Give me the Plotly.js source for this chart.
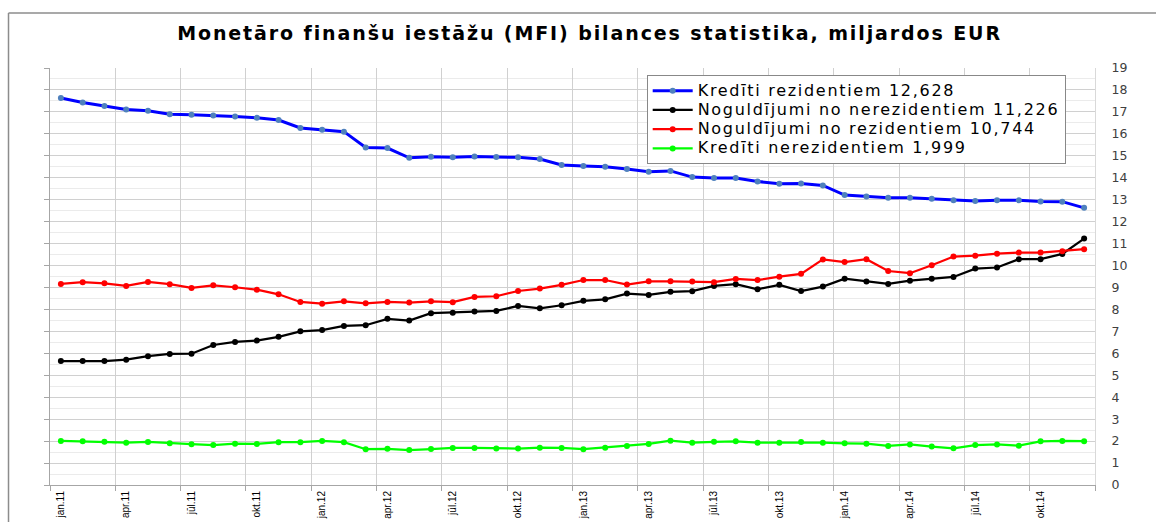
<!DOCTYPE html>
<html><head><meta charset="utf-8">
<script src="https://cdn.plot.ly/plotly-3.0.1.min.js"></script>
<style>html,body{margin:0;padding:0;background:#fff;} #chart{width:1156px;height:522px;}</style>
</head><body><div id="chart"></div>
<script>
const months = [
  'jan.11','feb.11','mar.11','apr.11','mai.11','jūn.11','jūl.11','aug.11','sep.11','okt.11','nov.11','dec.11',
  'jan.12','feb.12','mar.12','apr.12','mai.12','jūn.12','jūl.12','aug.12','sep.12','okt.12','nov.12','dec.12',
  'jan.13','feb.13','mar.13','apr.13','mai.13','jūn.13','jūl.13','aug.13','sep.13','okt.13','nov.13','dec.13',
  'jan.14','feb.14','mar.14','apr.14','mai.14','jūn.14','jūl.14','aug.14','sep.14','okt.14','nov.14','dec.14'
];
const tickLabels = ['jan.11','apr.11','jūl.11','okt.11','jan.12','apr.12','jūl.12','okt.12',
  'jan.13','apr.13','jūl.13','okt.13','jan.14','apr.14','jūl.14','okt.14'];
const titleText = 'Monetāro finanšu iestāžu (MFI) bilances statistika, miljardos EUR';
const seriesNames = [
  'Kredīti rezidentiem 12,628',
  'Noguldījumi no nerezidentiem 11,226',
  'Noguldījumi no rezidentiem 10,744',
  'Kredīti nerezidentiem 1,999'
];
const kreditiRezidentiem = [
  17.63,17.43,17.27,17.11,17.05,16.89,16.87,16.84,16.79,16.73,16.63,16.27,
  16.19,16.10,15.38,15.35,14.91,14.96,14.93,14.97,14.94,14.93,14.85,14.58,
  14.53,14.50,14.40,14.27,14.31,14.03,13.99,13.99,13.83,13.73,13.74,13.65,
  13.21,13.15,13.09,13.09,13.04,12.97,12.94,12.97,12.97,12.92,12.91,12.628
];
const noguldijumiNerezidentiem = [
  5.65,5.65,5.65,5.71,5.87,5.97,5.98,6.38,6.52,6.58,6.75,7.00,
  7.06,7.25,7.28,7.57,7.49,7.83,7.85,7.90,7.93,8.16,8.05,8.19,
  8.39,8.46,8.72,8.66,8.80,8.83,9.07,9.15,8.92,9.12,8.84,9.04,
  9.40,9.27,9.16,9.31,9.40,9.48,9.86,9.91,10.29,10.29,10.53,11.226
];
const noguldijumiRezidentiem = [
  9.16,9.24,9.19,9.07,9.25,9.15,8.98,9.10,9.01,8.90,8.69,8.34,
  8.26,8.37,8.28,8.34,8.31,8.37,8.33,8.57,8.60,8.84,8.95,9.12,
  9.34,9.34,9.13,9.28,9.28,9.27,9.24,9.39,9.34,9.49,9.62,10.28,
  10.16,10.29,9.75,9.65,10.01,10.41,10.45,10.54,10.59,10.59,10.65,10.744
];
const kreditiNerezidentiem = [
  2.01,1.99,1.97,1.93,1.96,1.90,1.86,1.82,1.88,1.87,1.95,1.95,
  2.01,1.95,1.63,1.65,1.59,1.64,1.69,1.69,1.66,1.66,1.70,1.69,
  1.63,1.70,1.78,1.87,2.02,1.93,1.97,1.99,1.93,1.93,1.96,1.93,
  1.90,1.88,1.78,1.85,1.75,1.67,1.82,1.85,1.79,1.99,2.01,1.999
];

const n = months.length;
const boundaries = [];
for (let i = 0; i <= n; i += 3) boundaries.push(i - 0.5);

const legendSpan = s => '<span style="font-size:16px;letter-spacing:1.7px">' + s + '</span>';

function series(name, y, lineColor, markerColor, lw) {
  return {
    type: 'scatter', mode: 'lines+markers', name: legendSpan(name), x: months, y: y,
    line: {color: lineColor, width: lw}, marker: {color: markerColor, size: 6},
    hoverinfo: 'x+y'
  };
}
const traces = [
  series(seriesNames[0], kreditiRezidentiem, '#0000ff', '#4f81bd', 3),
  series(seriesNames[1], noguldijumiNerezidentiem, '#000000', '#000000', 2.25),
  series(seriesNames[2], noguldijumiRezidentiem, '#ff0000', '#ff0000', 2.25),
  series(seriesNames[3], kreditiNerezidentiem, '#00ff00', '#00ff00', 2.25),
  {type: 'scatter', mode: 'lines', x: months.map((m, i) => i), y: kreditiNerezidentiem,
   xaxis: 'x2', yaxis: 'y2', opacity: 0, showlegend: false, hoverinfo: 'skip'}
];

const gridMajor = '#d0d0d0', gridMinor = '#ebebeb', axisCol = '#a6a6a6';
const layout = {
  width: 1156, height: 522,
  margin: {l: 50, r: 61, t: 68, b: 37},
  paper_bgcolor: '#ffffff', plot_bgcolor: '#ffffff',
  title: {
    text: '<span style="letter-spacing:1.9px">' + titleText + '</span>',
    font: {family: 'DejaVu Sans', size: 19, weight: 'bold', color: '#000'},
    x: 0.51, xanchor: 'center', y: 0.937, yanchor: 'middle', xref: 'container', yref: 'container'
  },
  showlegend: true,
  legend: {
    x: 0.571, y: 0.983, xanchor: 'left', yanchor: 'top',
    bgcolor: '#ffffff', bordercolor: '#888888', borderwidth: 1,
    font: {family: 'DejaVu Sans', size: 12.5, color: '#000'},
    itemwidth: 40, tracegroupgap: 0
  },
  xaxis: {
    type: 'category', range: [-0.5, n - 0.5],
    tickmode: 'array', tickvals: tickLabels, ticktext: tickLabels, tickangle: -90,
    showgrid: false, ticks: 'outside', ticklen: 1, tickcolor: 'rgba(0,0,0,0)',
    showline: true, linecolor: axisCol, zeroline: false,
    tickfont: {family: 'Liberation Sans', size: 10, color: '#000'},
    fixedrange: true
  },
  xaxis2: {
    overlaying: 'x', anchor: 'y', side: 'bottom', type: 'linear', range: [-0.5, n - 0.5],
    tickmode: 'array', tickvals: boundaries, showticklabels: false,
    showgrid: true, gridcolor: gridMajor, gridwidth: 1,
    ticks: 'outside', ticklen: 5, tickcolor: axisCol, zeroline: false, showline: false, fixedrange: true
  },
  yaxis: {
    range: [0, 19], dtick: 1, showgrid: true, gridcolor: gridMajor, gridwidth: 1,
    minor: {dtick: 0.5, showgrid: true, gridcolor: gridMinor},
    showticklabels: false, ticks: 'outside', ticklen: 5, tickcolor: axisCol,
    showline: true, linecolor: axisCol, zeroline: false, fixedrange: true
  },
  yaxis2: {
    overlaying: 'y', side: 'right', anchor: 'x2', range: [0, 19], dtick: 1,
    showgrid: false, ticks: 'outside', ticklen: 13, tickcolor: 'rgba(0,0,0,0)',
    showline: true, linecolor: '#d9d9d9', zeroline: false,
    tickfont: {family: 'DejaVu Sans', size: 12.5, color: '#404040'},
    fixedrange: true
  },
  shapes: [
    {type: 'line', xref: 'paper', yref: 'paper', x0: -0.0397, x1: -0.0397, y0: -0.2, y1: 1.1319,
     line: {color: '#8c8c8c', width: 1.5}},
    {type: 'line', xref: 'paper', yref: 'paper', x0: -0.0397, x1: 1.2, y0: 1.1319, y1: 1.1319,
     line: {color: '#8c8c8c', width: 1.5}}
  ]
};
Plotly.newPlot('chart', traces, layout, {displayModeBar: false, staticPlot: true});
</script></body></html>
